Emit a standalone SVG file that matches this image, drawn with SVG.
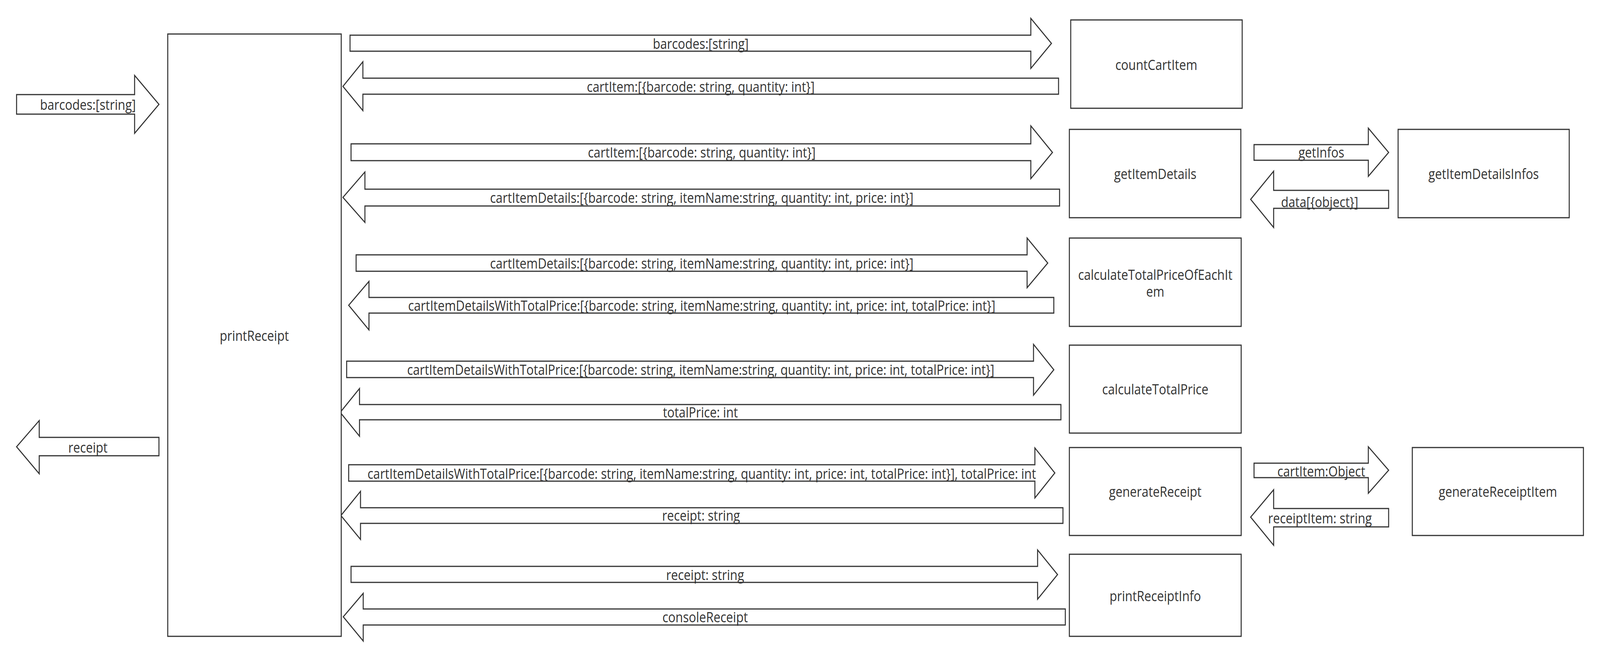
<svg xmlns="http://www.w3.org/2000/svg" width="4731" height="1686" viewBox="0 0 4731 1686" preserveAspectRatio="none">
<style>
:root{width:100vw;height:100vh}
.box{fill:#ffffff;stroke:#333333;stroke-width:3}
.arr{fill:#ffffff;stroke:#333333;stroke-width:3;stroke-linejoin:miter}
text{font-family:"Open Sans","Noto Sans","Liberation Sans",sans-serif;font-size:36px;fill:#333333;text-anchor:middle}
</style>
<rect x="0" y="0" width="4731" height="1686" fill="#ffffff"/>
<g id="connectors">
<g id="c-in"><polygon class="arr" points="49,242 398,242 398,193 470,267 398,341 398,292 49,292"/><text x="260" y="281">barcodes:[string]</text></g>
<g id="c-out"><polygon class="arr" points="49,1143 116,1076 116,1119 470,1119 470,1166 116,1166 116,1212"/><text x="260" y="1158">receipt</text></g>
<g id="c1"><polygon class="arr" points="1035,90 3048,90 3048,47 3109,111 3048,175 3048,131 1035,131"/><text x="2072" y="125">barcodes:[string]</text></g>
<g id="c2"><polygon class="arr" points="1014,221 1073,158 1073,200 3130,200 3130,241 1073,241 1073,283"/><text x="2072" y="235">cartItem:[{barcode: string, quantity: int}]</text></g>
<g id="c3"><polygon class="arr" points="1038,368 3048,368 3048,322 3112,390 3048,457 3048,411 1038,411"/><text x="2075" y="403">cartItem:[{barcode: string, quantity: int}]</text></g>
<g id="c4"><polygon class="arr" points="1014,505 1079,440 1079,484 3133,484 3133,527 1079,527 1079,569"/><text x="2075" y="519">cartItemDetails:[{barcode: string, itemName:string, quantity: int, price: int}]</text></g>
<g id="c5"><polygon class="arr" points="1053,652 3037,652 3037,609 3098,673 3037,736 3037,694 1053,694"/><text x="2075" y="687">cartItemDetails:[{barcode: string, itemName:string, quantity: int, price: int}]</text></g>
<g id="c6"><polygon class="arr" points="1031,781 1091,720 1091,761 3116,761 3116,801 1091,801 1091,844"/><text x="2075" y="795">cartItemDetailsWithTotalPrice:[{barcode: string, itemName:string, quantity: int, price: int, totalPrice: int}]</text></g>
<g id="c7"><polygon class="arr" points="1025,924 3056,924 3056,881 3116,946 3056,1011 3056,966 1025,966"/><text x="2072" y="959">cartItemDetailsWithTotalPrice:[{barcode: string, itemName:string, quantity: int, price: int, totalPrice: int}]</text></g>
<g id="c8"><polygon class="arr" points="1006,1055 1063,994 1063,1035 3137,1035 3137,1074 1063,1074 1063,1116"/><text x="2071" y="1068">totalPrice: int</text></g>
<g id="c9"><polygon class="arr" points="1031,1189 3060,1189 3060,1146 3119,1210 3060,1274 3060,1231 1031,1231"/><text x="2075" y="1225">cartItemDetailsWithTotalPrice:[{barcode: string, itemName:string, quantity: int, price: int, totalPrice: int}], totalPrice: int</text></g>
<g id="c10"><polygon class="arr" points="1008,1319 1066,1257 1066,1299 3143,1299 3143,1339 1066,1339 1066,1380"/><text x="2073" y="1332">receipt: string</text></g>
<g id="c11"><polygon class="arr" points="1038,1449 3068,1449 3068,1407 3127,1470 3068,1533 3068,1490 1038,1490"/><text x="2085" y="1484">receipt: string</text></g>
<g id="c12"><polygon class="arr" points="1015,1578 1074,1518 1074,1558 3150,1558 3150,1599 1074,1599 1074,1640"/><text x="2085" y="1592">consoleReceipt</text></g>
<g id="c13"><polygon class="arr" points="3708,370 4046,370 4046,328 4106,390 4046,451 4046,410 3708,410"/><text x="3907" y="403">getInfos</text></g>
<g id="c14"><polygon class="arr" points="3698,510 3766,438 3766,487 4106,487 4106,533 3766,533 3766,582"/><text x="3902" y="530">data[{object}]</text></g>
<g id="c15"><polygon class="arr" points="3708,1185 4046,1185 4046,1143 4106,1203 4046,1262 4046,1222 3708,1222"/><text x="3907" y="1219">cartItem:Object</text></g>
<g id="c16"><polygon class="arr" points="3698,1323 3766,1253 3766,1301 4106,1301 4106,1348 3766,1348 3766,1395"/><text x="3903" y="1339">receiptItem: string</text></g>
</g>
<g id="printReceipt"><rect class="box" x="496" y="87" width="513" height="1541"/><text x="752" y="872">printReceipt</text></g>
<g id="countCartItem"><rect class="box" x="3166" y="51" width="507" height="226"/><text x="3419" y="179">countCartItem</text></g>
<g id="getItemDetails"><rect class="box" x="3162" y="331" width="507" height="226"/><text x="3416" y="458">getItemDetails</text></g>
<g id="getItemDetailsInfos"><rect class="box" x="4134" y="331" width="506" height="226"/><text x="4387" y="458">getItemDetailsInfos</text></g>
<g id="calculateTotalPriceOfEachItem"><rect class="box" x="3162" y="609" width="508" height="226"/><text x="3416" y="716">calculateTotalPriceOfEachIt</text><text x="3416" y="759">em</text></g>
<g id="calculateTotalPrice"><rect class="box" x="3162" y="883" width="508" height="225"/><text x="3416" y="1009">calculateTotalPrice</text></g>
<g id="generateReceipt"><rect class="box" x="3162" y="1145" width="508" height="225"/><text x="3416" y="1271">generateReceipt</text></g>
<g id="generateReceiptItem"><rect class="box" x="4176" y="1145" width="506" height="225"/><text x="4429" y="1271">generateReceiptItem</text></g>
<g id="printReceiptInfo"><rect class="box" x="3162" y="1418" width="508" height="210"/><text x="3416" y="1538">printReceiptInfo</text></g>
</svg>
